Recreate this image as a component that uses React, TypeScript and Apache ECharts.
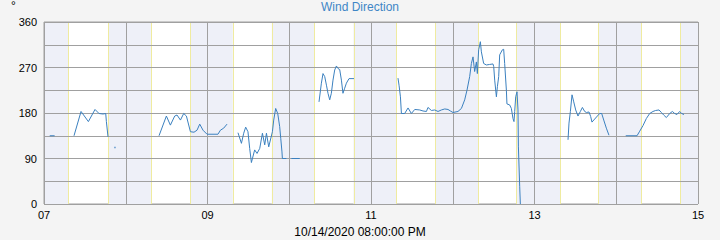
import React, { useEffect, useRef } from "react";
import * as echarts from "echarts";

// time in fractional days of October 2020 (day-of-month), wind direction in degrees; null = gap
const days: number[] = [
  7.07, 7.13, 7.2,
  7.367, 7.453, 7.543, 7.624, 7.673, 7.722, 7.755, 7.763, 7.783, 7.82,
  7.868, 7.9,
  8.407, 8.497, 8.546, 8.599, 8.627, 8.669, 8.709, 8.742, 8.791, 8.835, 8.872, 8.905, 8.945, 8.994, 9.128, 9.158, 9.198, 9.239, 9.3,
  9.373, 9.415, 9.443, 9.467, 9.495, 9.516, 9.537, 9.577, 9.606, 9.639, 9.672, 9.7, 9.721, 9.749, 9.794, 9.81, 9.834, 9.859, 9.883, 9.896, 9.911, 9.916, 9.965, 10.0,
  10.026, 10.128, 10.2,
  10.364, 10.393, 10.413, 10.434, 10.455, 10.474, 10.495, 10.515, 10.535, 10.556, 10.577, 10.596, 10.617, 10.638, 10.657, 10.678, 10.699, 10.731, 10.792, 11.0,
  11.33, 11.343, 11.36, 11.372, 11.412, 11.453, 11.494, 11.535, 11.596, 11.636, 11.678, 11.697, 11.739, 11.779, 11.82, 11.861, 11.902, 11.942, 11.971, 12.003, 12.064, 12.106, 12.146, 12.174, 12.207, 12.228, 12.248, 12.268, 12.289, 12.301, 12.317, 12.338, 12.35, 12.378, 12.411, 12.451, 12.492, 12.501, 12.513, 12.534, 12.546, 12.562, 12.574, 12.607, 12.623, 12.635, 12.656, 12.663, 12.696, 12.717, 12.737, 12.749, 12.758, 12.77, 12.786, 12.798, 12.803, 12.819, 12.827, 13.0,
  13.41, 13.422, 13.439, 13.459, 13.48, 13.504, 13.532, 13.561, 13.586, 13.614, 13.635, 13.667, 13.687, 13.703, 13.736, 13.769, 13.798, 13.822, 13.847, 13.879, 13.911, 14.0,
  14.116, 14.254, 14.287, 14.327, 14.368, 14.409, 14.449, 14.482, 14.523, 14.552, 14.58, 14.613, 14.654, 14.687, 14.715, 14.743, 14.776, 14.8, 14.829,
];

const directions: (number | null)[] = [
  135, 135, null,
  135, 183, 163, 187, 179, 178, 179, 163, 133, null,
  112, null,
  135, 174, 156, 174, 176, 166, 179, 174, 143, 142, 146, 158, 146, 138, 138, 146, 150, 158, null,
  141, 120, 140, 152, 143, 110, 82, 107, 100, 110, 140, 117, 140, 113, 143, 166, 189, 179, 153, 130, 103, 90, 90, null,
  90, 90, null,
  202, 239, 258, 252, 235, 219, 206, 219, 245, 265, 273, 268, 266, 245, 219, 229, 239, 248, 248, null,
  249, 235, 212, 179, 179, 190, 179, 187, 186, 184, 183, 191, 185, 186, 183, 186, 188, 187, 184, 181, 183, 189, 206, 225, 252, 278, 291, 262, 281, 258, 305, 321, 301, 278, 275, 276, 277, 272, 245, 212, 232, 252, 295, 305, 306, 278, 225, 198, 196, 189, 169, 163, 183, 212, 222, 186, 113, 34, 0, null,
  127, 160, 183, 216, 202, 186, 174, 183, 191, 183, 181, 182, 173, 162, 168, 174, 179, 179, 166, 150, 136, null,
  135, 135, 144, 155, 169, 179, 183, 185, 186, 181, 176, 171, 179, 183, 179, 177, 183, 179, 177,
];

const sunrises: number[] = [7.305, 8.307, 9.309, 10.31, 11.311, 12.312, 13.313, 14.314];
const sunsets: number[] = [7.788, 8.787, 9.786, 10.785, 11.784, 12.783, 13.782, 14.781];

const xMin = 7;
const xMax = 15;
const yMin = 0;
const yMax = 360;
const yStep = 45;
const yTicks: number[] = [0, 90, 180, 270, 360];
const xTitle = "10/14/2020 08:00:00 PM";
const chartTitle = "Wind Direction";
const unit = "°";

const FONT = "'Liberation Sans', Arial, sans-serif";
const GRID = "#a0a0a0";
const LINE = "#3b80bf";

export default function App() {
  const ref = useRef<HTMLDivElement>(null);

  useEffect(() => {
    if (!ref.current) return;
    const chart = echarts.init(ref.current, undefined, { renderer: "svg" });

    const lineData = days.map((d, i) => [d, directions[i] === null ? "-" : directions[i]]);
    const isolated = days
      .map((d, i) => [d, directions[i]] as [number, number | null])
      .filter((p, i) => {
        if (p[1] === null) return false;
        const prev = i > 0 ? directions[i - 1] : null;
        const next = i < directions.length - 1 ? directions[i + 1] : null;
        return prev === null && next === null;
      });

    const nights: [number, number][] = [];
    let start = xMin;
    for (let i = 0; i < sunrises.length; i++) {
      nights.push([start, sunrises[i]]);
      start = sunsets[i];
    }
    nights.push([start, xMax]);

    const sunLines = [...sunrises, ...sunsets].map((t) => ({ xAxis: t }));

    const gridLines: any[] = [];
    for (let v = yMin; v <= yMax; v += yStep) gridLines.push({ yAxis: v });
    for (let d = xMin; d <= xMax; d += 1) gridLines.push({ xAxis: d });

    chart.setOption({
      animation: false,
      backgroundColor: "#f4f4f4",
      title: {
        text: chartTitle,
        left: "center",
        top: 1,
        padding: 0,
        textStyle: { fontFamily: FONT, fontSize: 12, fontWeight: "normal", color: "#3f86c6" },
      },
      graphic: [
        {
          type: "text",
          left: 11,
          top: 0,
          style: { text: unit, font: `12px ${FONT}`, fill: "#000" },
        },
        {
          type: "text",
          left: "center",
          top: 226,
          style: { text: xTitle, font: `12px ${FONT}`, fill: "#000" },
        },
      ],
      grid: {
        left: 44,
        right: 22,
        top: 22,
        bottom: 36,
        show: true,
        backgroundColor: "#ffffff",
        borderColor: GRID,
        borderWidth: 1,
      },
      xAxis: {
        type: "value",
        min: xMin,
        max: xMax,
        interval: 1,
        axisLine: { show: false },
        axisTick: { show: false },
        axisLabel: {
          fontFamily: FONT,
          fontSize: 11,
          color: "#000",
          margin: 5,
          formatter: (v: number) => (Math.round(v) % 2 === 1 ? String(Math.round(v)).padStart(2, "0") : ""),
        },
        splitLine: { show: false },
      },
      yAxis: {
        type: "value",
        min: yMin,
        max: yMax,
        interval: yStep,
        axisLine: { show: false },
        axisTick: { show: false },
        axisLabel: {
          fontFamily: FONT,
          fontSize: 11,
          color: "#000",
          margin: 7,
          formatter: (v: number) => (yTicks.includes(v) ? String(v) : ""),
        },
        splitLine: { show: false },
      },
      series: [
        {
          type: "line",
          z: 1,
          data: [],
          silent: true,
          markArea: {
            silent: true,
            z: 1,
            itemStyle: { color: "#eef0f8" },
            data: nights.map(([a, b]) => [{ xAxis: a }, { xAxis: b }]),
          },
          markLine: {
            silent: true,
            z: 1,
            symbol: "none",
            label: { show: false },
            lineStyle: { color: "#efeba0", type: "solid", width: 1 },
            data: sunLines,
          },
        },
        {
          type: "line",
          z: 2,
          data: [],
          silent: true,
          markLine: {
            silent: true,
            z: 2,
            symbol: "none",
            label: { show: false },
            lineStyle: { color: GRID, type: "solid", width: 1 },
            data: gridLines,
          },
        },
        {
          type: "line",
          data: lineData,
          showSymbol: false,
          connectNulls: false,
          lineStyle: { color: LINE, width: 1 },
          itemStyle: { color: LINE },
          z: 6,
        },
        {
          type: "scatter",
          data: isolated,
          symbol: "rect",
          symbolSize: 1.5,
          itemStyle: { color: LINE },
          z: 6,
        },
      ],
    });

    return () => chart.dispose();
  }, []);

  return (
    <div
      ref={ref}
      style={{ position: "fixed", left: 0, top: 0, width: 720, height: 240 }}
    />
  );
}
